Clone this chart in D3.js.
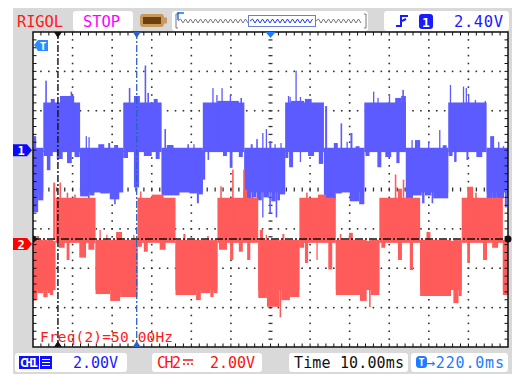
<!DOCTYPE html>
<html><head><meta charset="utf-8">
<script src="https://cdn.jsdelivr.net/npm/d3@7"></script>
<style>body{margin:0;background:#fff}svg{display:block}</style>
</head><body><svg id="c" width="512" height="374"></svg>
<script>
// ---------------- DATA (time in ms relative to trigger, volts) ----------------
const timePerDiv = 10;          // ms/div
const triggerDelay = "220.0ms";
const ch1Scale = 2.0, ch2Scale = 2.0;   // V/div
const ch1Offset = 2.0, ch2Offset = -2.56;
const freqText = "Freq(2)=50.00Hz";
const trigLevel = "2.40V";

// [tStart, tEnd, vTop, vBottom]
const ch1Blocks = [
  [-60,-57.4,0.12,-2.15],[-57.4,-48.1,2.42,-0.1],[-48.1,-37.2,0.12,-2.15],[-37.2,-27.5,2.42,-0.1],
  [-27.5,-17.1,0.12,-2.15],[-17.1,-6.6,2.42,-0.1],[-6.6,3.7,0.12,-2.15],[3.7,13.5,2.42,-0.1],
  [13.5,23.7,0.12,-2.15],[23.7,34.2,2.42,-0.1],[34.2,44.9,0.12,-2.15],[44.9,54.6,2.42,-0.1],[54.6,60,0.12,-2.15]
];
// [tStart, tEnd, vExtreme]  (glitch envelope extending from 0 V)
const ch1Bumps = [
  [-60,-58.7,-3.15],[-58.7,-57.4,-2.55],[-59.8,-59.2,0.71],
  [-56.9,-56.5,3.53],[-53.2,-49.6,2.75],[-50.5,-50.1,2.97],[-55.5,-54.5,2.6],
  [-57.3,-55,-0.3],[-56.5,-55.6,-1.02],[-54,-52.5,-0.45],[-51.4,-50.2,-0.66],[-49.5,-48.2,-0.35],
  [-48.1,-46.1,-2.35],[-46.1,-45.7,-2.8],[-45.7,-44.5,-2.3],[-43,-40.6,-2.2],[-40.6,-38.2,-2.5],[-39.5,-39.1,-2.75],
  [-46.7,-46.4,0.71],[-46.0,-45.7,0.66],[-43.5,-42.0,0.3],[-41,-40.5,0.36],[-39.5,-38.5,0.26],
  [-35.8,-35.4,3.16],[-34.5,-33.0,2.75],[-31.8,-31.4,4.3],[-31.1,-30.7,2.91],[-29.5,-28.5,2.6],
  [-37.2,-36,-0.4],[-34.5,-33.2,-1.9],[-32,-30,-0.3],[-29,-28,-0.45],
  [-27.5,-23,-2.3],[-20.5,-18.6,-2.2],[-18.6,-18.1,-2.7],[-18.1,-17.1,-2.25],
  [-26.8,-26.4,1.07],[-26.2,-24.5,0.26],[-21,-20.6,0.3],[-19.5,-19.2,0.3],
  [-14.7,-14.4,3.15],[-13.7,-13.4,2.8],[-12.4,-12.1,3.15],[-10.3,-10.0,2.8],[-7.6,-7.2,2.65],[-13.4,-8,2.5],
  [-17.1,-16.5,-1.5],[-15.9,-15.5,-0.5],[-12,-11,-0.3],[-10.3,-9.6,-0.9],[-8,-7,-0.35],
  [-6.6,-4.9,-2.6],[-4.8,-4.4,-3.06],[-4.4,-3.6,-2.4],[-3.5,-2.2,-2.55],[-2.1,-1.8,-3.42],[-1.8,-0.4,-2.4],
  [-0.3,0.1,-3.2],[0.2,1.3,-2.6],[1.3,1.7,-3.42],[1.7,2.4,-2.55],[2.4,3.7,-2.25],
  [-5,-4.5,0.3],[-3.6,-3.2,0.56],[-2.1,-1.8,0.87],[-1.2,-0.9,1.07],[-0.3,0.2,0.45],[1,1.3,0.3],[2.5,2.8,0.36],
  [4.4,4.7,2.75],[4.8,5.1,2.7],[6.3,6.6,4.04],[7.4,7.7,2.7],[8.7,10.4,2.6],[5.2,8.5,2.5],
  [3.7,4.5,-0.4],[4.7,5.7,-0.87],[7.4,7.7,-0.6],[9.5,11,-0.3],[12.2,13.3,-0.7],
  [13.8,14.3,2.24],[16.0,17.0,0.36],[17.7,18.1,1.36],[19.2,19.5,0.42],[20.2,20.7,0.87],[21.5,22.5,0.2],
  [13.5,16.5,-2.5],[16.5,18.0,-2.2],[20,22.4,-2.6],[22.4,23.7,-2.75],
  [25.9,26.2,2.97],[27.0,27.3,2.65],[29.9,30.2,2.8],[31.5,33.0,2.65],[33.3,33.7,3.06],[33.0,34.2,2.75],
  [24,25,-0.3],[27.0,28.0,-0.87],[29,30.5,-0.35],[31.8,32.6,-0.66],
  [35.6,35.9,0.51],[36.5,37.8,0.51],[39.8,40.1,0.42],[42.6,42.9,1.02],[43.5,44.5,0.25],
  [34.2,36.0,-2.5],[36,38.2,-2.3],[38.3,38.9,-2.7],[39,40.6,-2.3],[40.7,41.1,-2.7],[41.1,44.9,-2.45],
  [45.3,45.6,3.31],[48.6,48.9,3.23],[49.3,49.6,3.16],[49.9,50.2,2.8],[51.6,51.9,2.55],[54.1,54.4,2.5],
  [45,46,-0.3],[46.4,47,-0.6],[49.5,50,-0.5],[52,53.5,-0.35],
  [55.5,56.5,0.71],[57.5,57.8,0.42],[58.7,59,0.2],
  [54.6,56,-2.55],[56,57,-2.8],[57,59,-2.45],[59.2,59.7,-2.91],[59.7,60,-2.4]
];

const ch2Blocks = [
  [-60,-54.3,-0.05,-2.55],[-54.3,-44.2,2.14,-0.15],[-44.2,-33.6,-0.05,-2.55],[-33.6,-24.0,2.14,-0.15],
  [-24.0,-13.4,-0.05,-2.55],[-13.4,-3.1,2.14,-0.15],[-3.1,7.3,-0.05,-2.55],[7.3,16.5,2.14,-0.15],
  [16.5,27.5,-0.05,-2.55],[27.5,37.8,2.14,-0.15],[37.8,48.3,-0.05,-2.55],[48.3,58.7,2.14,-0.15],[58.7,60,-0.05,-2.55]
];
const ch2Bumps = [
  [-60,-58.9,-3.06],[-58.9,-57.4,-2.7],[-57.4,-56.3,-2.91],[-56.3,-55.7,-2.7],[-55.7,-54.9,-2.8],[-59,-58.5,0.2],
  [-54.9,-54.4,2.91],[-53.3,-52.9,2.91],[-51.5,-51.1,2.4],[-49.6,-49.2,2.3],
  [-53.5,-52,-0.4],[-51.5,-50.8,-1.02],[-48.3,-46.6,-0.9],[-46,-44.5,-0.5],
  [-43.2,-42.9,0.51],[-41.5,-41.2,0.26],[-39,-37.5,0.4],[-34.7,-34.4,0.26],
  [-44.2,-40.5,-2.75],[-40.5,-38.0,-3.1],[-38.0,-33.6,-2.9],
  [-33.0,-32.6,2.46],[-30,-27,2.3],[-33.5,-32.5,-0.35],[-32,-31,-0.6],[-28,-26.5,-0.5],
  [-22,-21.5,0.3],[-16,-15.6,0.2],
  [-24,-18.8,-2.8],[-18.8,-17.6,-3.06],[-17.6,-15.2,-2.7],[-15.2,-14.4,-2.9],[-14.4,-13.4,-2.7],
  [-12.7,-12.3,2.72],[-9.7,-9.3,3.57],[-6.9,-6.5,3.57],[-6.9,-5.9,2.55],
  [-13,-11,-0.5],[-10.2,-9.4,-1.02],[-8,-7,-0.6],[-5.9,-5.1,-1.02],
  [-2.7,-1.9,0.51],[-1.2,-0.9,0.26],[3,3.5,0.3],
  [-3.1,-0.9,-2.95],[-0.9,2.3,-3.4],[2.3,2.7,-3.93],[2.7,4.9,-3.06],[4.9,7.3,-2.9],
  [9.0,9.4,2.4],[12,14,2.3],[8.7,9.5,-1.17],[11.6,11.9,-1.02],[14.6,15.6,-1.5],[7.3,8.5,-0.4],
  [17.5,17.9,0.3],[19.8,20.8,0.36],
  [16.5,22.6,-2.8],[22.6,24.3,-3.1],[24.9,25.3,-3.42],[25.3,27.5,-2.8],
  [31.4,31.8,3.32],[32.2,33.2,2.6],[33.4,33.8,3.06],[28,29,-0.4],[32.2,33.2,-1.02],[35.2,36,-1.53],
  [39.4,40.4,0.4],[37.8,45.6,-2.85],[46.2,47.5,-3.21],[47.5,48.3,-2.85],
  [49.7,51.2,2.7],[51.7,52.1,2.4],[49.7,50.4,-1.17],[53.7,54.7,-1.02],[56,57.5,-0.4],
  [58.7,60,-2.8]
];

const cursorTimes = [-53.7, -33.8];   // vertical cursors A (black), B (blue)
const ch2LevelLine = 0.05;            // horizontal dash-dot line on CH2 (V)

// ---------------- LAYOUT ----------------
const L=33,R=508,T=32,B=347;
const svg=d3.select("#c");
const x=d3.scaleLinear().domain([-6*timePerDiv,6*timePerDiv]).range([L,R]);
const y1=d3.scaleLinear().domain([-4*ch1Scale-ch1Offset,4*ch1Scale-ch1Offset]).range([B,T]);
const y2=d3.scaleLinear().domain([-4*ch2Scale-ch2Offset,4*ch2Scale-ch2Offset]).range([B,T]);
const gray="#d9d9d9", blueW="#5b5bff", redW="#ff5b5b";
const mono="'DejaVu Sans Mono', monospace";

svg.append("rect").attr("x",13).attr("y",8).attr("width",499).attr("height",366).attr("fill",gray);
svg.append("rect").attr("x",L).attr("y",T).attr("width",R-L).attr("height",B-T).attr("fill","#fff");

// grid dots
const grid=svg.append("g").attr("fill","#333");
const dw=(R-L)/12, dh=(B-T)/8;
for(let k=1;k<12;k++){ if(k===6) continue;
  for(let j=1;j<40;j++) grid.append("rect").attr("x",L+k*dw-0.8).attr("y",T+j*dh/5-0.8).attr("width",1.6).attr("height",1.6);
}
for(let k=1;k<8;k++){ if(k===4) continue;
  for(let i=1;i<60;i++) grid.append("rect").attr("x",L+i*dw/5-0.8).attr("y",T+k*dh-0.8).attr("width",1.6).attr("height",1.6);
}
// centre axes ticks
for(let j=1;j<40;j++) grid.append("rect").attr("x",L+6*dw-2).attr("y",T+j*dh/5-0.6).attr("width",4).attr("height",1.3);
for(let i=1;i<60;i++) grid.append("rect").attr("x",L+i*dw/5-0.6).attr("y",T+4*dh-2).attr("width",1.3).attr("height",4);

// waveforms
svg.append("clipPath").attr("id","scr").append("rect").attr("x",L).attr("y",T).attr("width",R-L).attr("height",B-T);
function drawCh(blocks,bumps,y,col){
  const g=svg.append("g").attr("clip-path","url(#scr)").attr("fill",col);
  g.selectAll("rect.b").data(blocks).join("rect").attr("class","b")
    .attr("x",d=>x(d[0])).attr("width",d=>x(d[1])-x(d[0]))
    .attr("y",d=>y(d[2])).attr("height",d=>y(d[3])-y(d[2]));
  g.selectAll("rect.s").data(bumps).join("rect").attr("class","s")
    .attr("x",d=>x(d[0])).attr("width",d=>Math.max(1.3,x(d[1])-x(d[0])))
    .attr("y",d=>Math.min(y(d[2]),y(0))).attr("height",d=>Math.abs(y(d[2])-y(0)));
}
drawCh(ch1Blocks,ch1Bumps,y1,blueW);
drawCh(ch2Blocks,ch2Bumps,y2,redW);

// cursors
svg.append("line").attr("x1",x(cursorTimes[0])).attr("x2",x(cursorTimes[0])).attr("y1",T).attr("y2",B)
  .attr("stroke","#111").attr("stroke-width",1.4).attr("stroke-dasharray","7,2,2,2");
svg.append("line").attr("x1",x(cursorTimes[1])).attr("x2",x(cursorTimes[1])).attr("y1",T).attr("y2",B)
  .attr("stroke","#2b62c4").attr("stroke-width",1.3).attr("stroke-dasharray","7,2,2,2");
svg.append("line").attr("x1",L).attr("x2",R).attr("y1",y2(ch2LevelLine)).attr("y2",y2(ch2LevelLine))
  .attr("stroke","#111").attr("stroke-width",1.5).attr("stroke-dasharray","8,2,2,2");

// frame + edge ticks
svg.append("rect").attr("x",L).attr("y",T).attr("width",R-L).attr("height",B-T).attr("fill","none").attr("stroke","#111").attr("stroke-width",1.5);
const tk=svg.append("g").attr("stroke","#111").attr("stroke-width",1);
for(let i=1;i<60;i++){const xx=L+i*dw/5;
  tk.append("line").attr("x1",xx).attr("x2",xx).attr("y1",T).attr("y2",T+3.5);
  tk.append("line").attr("x1",xx).attr("x2",xx).attr("y1",B).attr("y2",B-3.5);}
for(let j=1;j<40;j++){const yy=T+j*dh/5;
  tk.append("line").attr("y1",yy).attr("y2",yy).attr("x1",L).attr("x2",L+3.5);
  tk.append("line").attr("y1",yy).attr("y2",yy).attr("x1",R).attr("x2",R-3.5);}

// cursor triangles
function triDown(cx,col){svg.append("path").attr("d",`M${cx-4},${T}L${cx+4},${T}L${cx},${T+6}Z`).attr("fill",col);}
function triUp(cx,col){svg.append("path").attr("d",`M${cx-4},${B}L${cx+4},${B}L${cx},${B-6}Z`).attr("fill",col);}
triDown(x(cursorTimes[0]),"#111"); triUp(x(cursorTimes[0]),"#111");
triDown(x(cursorTimes[1]),"#2b62c4"); triUp(x(cursorTimes[1]),"#2b62c4");
svg.append("path").attr("d",`M${x(0)-5},${T}L${x(0)+5},${T}L${x(0)},${T+6}Z`).attr("fill","#1e7bff");
// level line ends
const ly=y2(ch2LevelLine);
svg.append("path").attr("d",`M${L},${ly-4}L${L+5},${ly}L${L},${ly+4}Z`).attr("fill","#111");
svg.append("circle").attr("cx",R).attr("cy",ly).attr("r",3.5).attr("fill","#111");

// channel tags
function tag(yc,col,label){
  svg.append("path").attr("d",`M13,${yc-6}H27L32,${yc}L27,${yc+6}H13Z`).attr("fill",col);
  svg.append("text").attr("x",21).attr("y",yc+4.5).attr("text-anchor","middle").attr("fill","#fff")
    .attr("font-family",mono).attr("font-weight","bold").attr("font-size",12).text(label);
}
tag(y1(0),"#0a0aff","1");
tag(244,"#ff0000","2");
// T tag
svg.append("path").attr("d",`M34,45L38,40H48V51H38Z`).attr("fill","#2a8cff");
svg.append("text").attr("x",43).attr("y",49.5).attr("text-anchor","middle").attr("fill","#fff")
  .attr("font-family",mono).attr("font-weight","bold").attr("font-size",11).text("T");

// Freq text
svg.append("text").attr("x",40).attr("y",342).attr("fill","#ff1a1a").attr("font-family",mono)
  .attr("font-size",14.5).attr("textLength",133).text(freqText);

// ---------------- HEADER ----------------
svg.append("text").attr("x",17).attr("y",27).attr("fill","#ff1a1a").attr("font-family",mono)
  .attr("font-size",15.5).attr("textLength",46).text("RIGOL");
function box(x0,y0,w,h){svg.append("rect").attr("x",x0).attr("y",y0).attr("width",w).attr("height",h).attr("rx",3).attr("fill","#fff");}
box(73,11,60,20);
svg.append("text").attr("x",83).attr("y",27).attr("fill","#ff00ff").attr("font-family",mono)
  .attr("font-size",15.5).attr("textLength",37).text("STOP");
// battery
svg.append("rect").attr("x",140).attr("y",14).attr("width",24).attr("height",13).attr("rx",3).attr("fill","#c8995a");
svg.append("rect").attr("x",143).attr("y",17).attr("width",18).attr("height",7).attr("fill","#6b3f0e");
svg.append("rect").attr("x",164).attr("y",17.5).attr("width",3).attr("height",6).attr("fill","#c8995a");
// memory indicator
box(172,11,196,20);
function zig(x0,x1,yc,col){let p=`M${x0},${yc}`;let up=true;for(let xx=x0+2.5;xx<=x1;xx+=2.5){p+=`L${xx},${yc+(up?-2:2)}`;up=!up;}
  svg.append("path").attr("d",p).attr("fill","none").attr("stroke",col).attr("stroke-width",1);}
zig(178,248,21,"#777"); zig(316,363,21,"#777"); zig(250,314,21,"#1a3cff");
svg.append("rect").attr("x",248.5).attr("y",15.5).attr("width",67).attr("height",11).attr("fill","none").attr("stroke","#6b7fd0").attr("stroke-width",1);
svg.append("path").attr("d","M176,14V28M176,14H178M176,28H178M366,14V28M366,14H364M366,28H364").attr("stroke","#777").attr("fill","none");
svg.append("path").attr("d","M178,12V20M178,13H184").attr("stroke","#1a6cff").attr("stroke-width",1.5).attr("fill","none");
// trigger box
box(384,11,125,20);
svg.append("path").attr("d","M396,26H401V16H408M402,21L406,19").attr("stroke","#1a1aff").attr("stroke-width",2).attr("fill","none");
svg.append("rect").attr("x",419).attr("y",14).attr("width",14).attr("height",15).attr("rx",3).attr("fill","#1a1aff");
svg.append("text").attr("x",426).attr("y",26.5).attr("text-anchor","middle").attr("fill","#fff").attr("font-family",mono)
  .attr("font-weight","bold").attr("font-size",13).text("1");
svg.append("text").attr("x",454).attr("y",27).attr("fill","#1a1aff").attr("font-family",mono)
  .attr("font-size",15.5).attr("textLength",49).text(trigLevel);

// ---------------- FOOTER ----------------
box(15,353,112,19);
svg.append("rect").attr("x",19).attr("y",356).attr("width",20).attr("height",13).attr("fill","#1010ff");
svg.append("text").attr("x",20).attr("y",367).attr("fill","#fff").attr("font-family",mono).attr("font-weight","bold")
  .attr("font-size",12).attr("textLength",18).text("CH1");
svg.append("rect").attr("x",40).attr("y",356).attr("width",12).attr("height",13).attr("fill","#1010ff");
svg.append("path").attr("d","M42,359.5H50M42,362.5H50M42,365.5H50").attr("stroke","#fff").attr("stroke-width",1);
svg.append("text").attr("x",73).attr("y",368).attr("fill","#1a1aff").attr("font-family",mono)
  .attr("font-size",15).attr("textLength",45).text(ch1Scale.toFixed(2)+"V");
box(152,353,110,19);
svg.append("text").attr("x",157).attr("y",368).attr("fill","#ff1010").attr("font-family",mono)
  .attr("font-size",15).attr("textLength",24).text("CH2");
svg.append("path").attr("d","M183,360H193M183,364H185M187,364H189M191,364H193").attr("stroke","#ff1010").attr("stroke-width",1.3);
svg.append("text").attr("x",210).attr("y",368).attr("fill","#ff1010").attr("font-family",mono)
  .attr("font-size",15).attr("textLength",45).text(ch2Scale.toFixed(2)+"V");
box(289,353,119,19);
svg.append("text").attr("x",294).attr("y",368).attr("fill","#111").attr("font-family",mono)
  .attr("font-size",15).attr("textLength",110).text("Time "+timePerDiv.toFixed(2)+"ms");
box(411,353,97,19);
svg.append("rect").attr("x",416).attr("y",356).attr("width",11).attr("height",12).attr("rx",3.5).attr("fill","#1e7bff");
svg.append("text").attr("x",421.5).attr("y",366).attr("text-anchor","middle").attr("fill","#fff").attr("font-family",mono)
  .attr("font-weight","bold").attr("font-size",10).text("T");
svg.append("text").attr("x",426).attr("y",368).attr("fill","#1e7bff").attr("font-family",mono)
  .attr("font-size",15).attr("textLength",78).text("\u2192"+triggerDelay);
</script></body></html>
